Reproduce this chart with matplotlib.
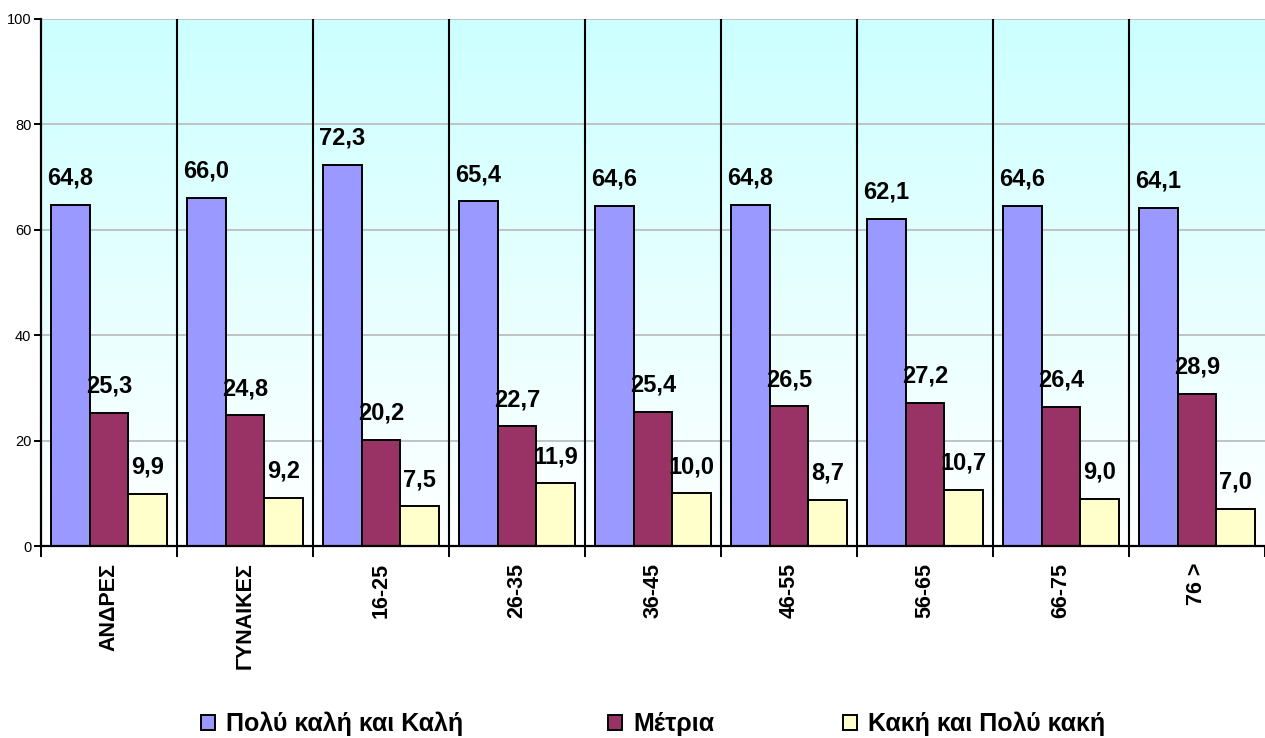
import numpy as np
import matplotlib
matplotlib.use("Agg")
import matplotlib.pyplot as plt
from matplotlib.patches import Patch

plt.rcParams['font.family'] = ['Liberation Sans', 'DejaVu Sans']

# data
categories = ['ΑΝΔΡΕΣ', 'ΓΥΝΑΙΚΕΣ', '16-25', '26-35', '36-45', '46-55', '56-65', '66-75', '76 >']
good = [64.8, 66.0, 72.3, 65.4, 64.6, 64.8, 62.1, 64.6, 64.1]
medium = [25.3, 24.8, 20.2, 22.7, 25.4, 26.5, 27.2, 26.4, 28.9]
bad = [9.9, 9.2, 7.5, 11.9, 10.0, 8.7, 10.7, 9.0, 7.0]
series_names = ['Πολύ καλή και Καλή', 'Μέτρια', 'Κακή και Πολύ κακή']
colors = ['#9999FF', '#993366', '#FFFFCC']

fig = plt.figure(figsize=(12.65, 7.38), dpi=100)
ax = fig.add_axes([41/1265, 1 - 546/738, 1 - 41/1265, (546 - 19)/738])

n = len(categories)
x = np.arange(n) + 0.5
w = 0.285

# gradient background
grad = np.linspace(0, 1, 256).reshape(-1, 1)
top = np.array([0xCC, 0xFF, 0xFF]) / 255
bot = np.array([1.0, 1.0, 1.0])
img = bot + (top - bot) * grad[:, :, None] * np.ones((1, 1, 3))
ax.imshow(img, extent=[0, n, 0, 100], origin='lower', aspect='auto', zorder=0)

# gridlines
for yv in range(20, 101, 20):
    ax.axhline(yv, color='#BDBDBD', lw=1.3, zorder=1)
# category separators
for b in range(1, n):
    ax.axvline(b, color='black', lw=1.5, zorder=1)

for vals, off, c, name in zip([good, medium, bad], [-w, 0, w], colors, series_names):
    ax.bar(x + off, vals, width=w, color=c, edgecolor='black', lw=1.4, zorder=2, label=name)
    for xi, v in zip(x + off, vals):
        ax.annotate(f'{v:.1f}'.replace('.', ','), (xi, v), xytext=(0, 11), textcoords='offset points',
                    ha='center', va='bottom', fontsize=17, fontweight='bold', zorder=4)

ax.set_xlim(0, n)
ax.set_ylim(0, 100)
ax.set_yticks(range(0, 101, 20))
ax.tick_params(axis='y', labelsize=10.5, length=5, width=1.4, pad=2)

ax.set_xticks(range(0, n + 1))
ax.set_xticklabels([])
ax.tick_params(axis='x', which='major', length=8, width=1.4)
ax.set_xticks(x, minor=True)
ax.set_xticklabels(categories, minor=True, rotation=90, fontsize=15.5, fontweight='bold')
ax.tick_params(axis='x', which='minor', length=0, pad=12)

for s in ['top', 'right']:
    ax.spines[s].set_visible(False)
ax.spines['left'].set_linewidth(1.6)
ax.spines['bottom'].set_linewidth(1.6)

# legend entries placed individually
leg_x = [201, 608, 843]
for name, c, lx in zip(series_names, colors, leg_x):
    h = Patch(facecolor=c, edgecolor='black', lw=1.4)
    fig.legend([h], [name], loc='center left', bbox_to_anchor=(lx/1265, 1 - 724/738),
               frameon=False, prop={'size': 18, 'weight': 'bold'},
               handlelength=0.56, handleheight=0.56, handletextpad=0.45,
               borderaxespad=0, borderpad=0)

fig.savefig('out.png', dpi=100)
